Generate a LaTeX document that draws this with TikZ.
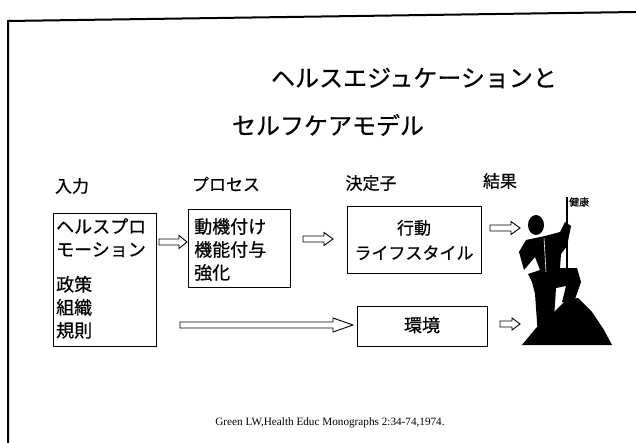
\documentclass[tikz,border=0pt]{standalone}
\usepackage{fontspec}
\setmainfont{Liberation Serif}
\newfontfamily\jp[FakeBold=0.6]{Noto Sans CJK JP}
\begin{document}
\begin{tikzpicture}[x=1pt,y=-1pt,
  box/.style={draw,line width=1pt,inner sep=0,anchor=north west},
  lbl/.style={inner sep=0,font=\jp\fontsize{18}{23}\selectfont},
  head/.style={inner sep=0,font=\jp\fontsize{17}{20}\selectfont},
  pics/hollowarrow/.style args={#1/#2/#3/#4}{code={
    \draw[line width=0.9pt,fill=white] (0,-#2) -- ({#1-#4},-#2) -- ({#1-#4},-#3) -- (#1,0)
      -- ({#1-#4},#3) -- ({#1-#4},#2) -- (0,#2) -- cycle;}}]
\useasboundingbox (0,0) rectangle (636,443);

% slide frame
\draw[line width=2pt] (8,443) -- (8,21) -- (636,12);

% title
\node[inner sep=0,font=\jp\fontsize{24}{28}\selectfont] (t1) at (414,78) {ヘルスエジュケーションと};
\node[inner sep=0,font=\jp\fontsize{24}{28}\selectfont] (t2) at (328,125) {セルフケアモデル};

% column headings
\node[head] (h1) at (72,186) {入力};
\node[head] (h2) at (226,184) {プロセス};
\node[head] (h3) at (371,183) {決定子};
\node[head] (h4) at (500,181) {結果};

% input box
\node[box,minimum width=103,minimum height=133] (inp) at (53,213) {};
\node[lbl,anchor=north west,align=left] (inptxt) at (56,218)
  {ヘルスプロ\\モーション\\[12pt]政策\\組織\\規則};

% process box
\node[box,minimum width=102,minimum height=78] (proc) at (188,209) {};
\node[lbl,anchor=north west,align=left] (proctxt) at (194,218)
  {動機付け\\機能付与\\強化};

% behaviour box
\node[box,minimum width=134,minimum height=67] (beh) at (347,206) {};
\node[lbl,align=center,font=\jp\fontsize{17}{25}\selectfont] (behtxt) at (414,240)
  {行動\\ライフスタイル};

% environment box
\node[box,minimum width=130,minimum height=40] (env) at (357,306) {};
\node[lbl] (envtxt) at (422,325) {環境};

% hollow arrows between the stages
\pic (a1) at (159,242) {hollowarrow=28/3/6.5/8};
\pic (a2) at (303,239) {hollowarrow=30/3/6.5/9};
\pic (a3) at (490,228) {hollowarrow=30/3/6.5/9};
\pic (a4) at (180,325) {hollowarrow=173/3/7/20};
\pic (a5) at (500,324) {hollowarrow=20/3/6/8};

% climber on a hill with a flag
\fill (522,345) -- (536,328) -- (552,314) -- (566,300) -- (578,298) -- (592,312)
  -- (604,330) -- (612,345) -- cycle;
\draw[line width=2pt] (567,197) -- (567,300);
\node[inner sep=0,anchor=west,font=\jp\fontsize{10}{10}\selectfont] (flag) at (569,202) {健康};
% body
\fill (526,240) -- (545,236) -- (560,232) -- (565,222) -- (571,226) -- (567,246)
  -- (561,254) -- (560,268) -- (577,268) -- (581,282) -- (574,302) -- (562,302)
  -- (566,286) -- (556,288) -- (553,334) -- (538,336) -- (535,294) -- (532,282)
  -- (528,274) -- (540,270) -- (535,257) -- (524,270) -- (519,252) -- cycle;
% head
\fill (536,225) ellipse (8 and 10);
\draw[white,line width=0.6pt] (544,238) -- (546,272);

% reference
\node[inner sep=0,font=\fontsize{11.2}{13}\selectfont] (cite) at (330,423)
  {Green LW,Health Educ Monographs 2:34-74,1974.};
\end{tikzpicture}
\end{document}
